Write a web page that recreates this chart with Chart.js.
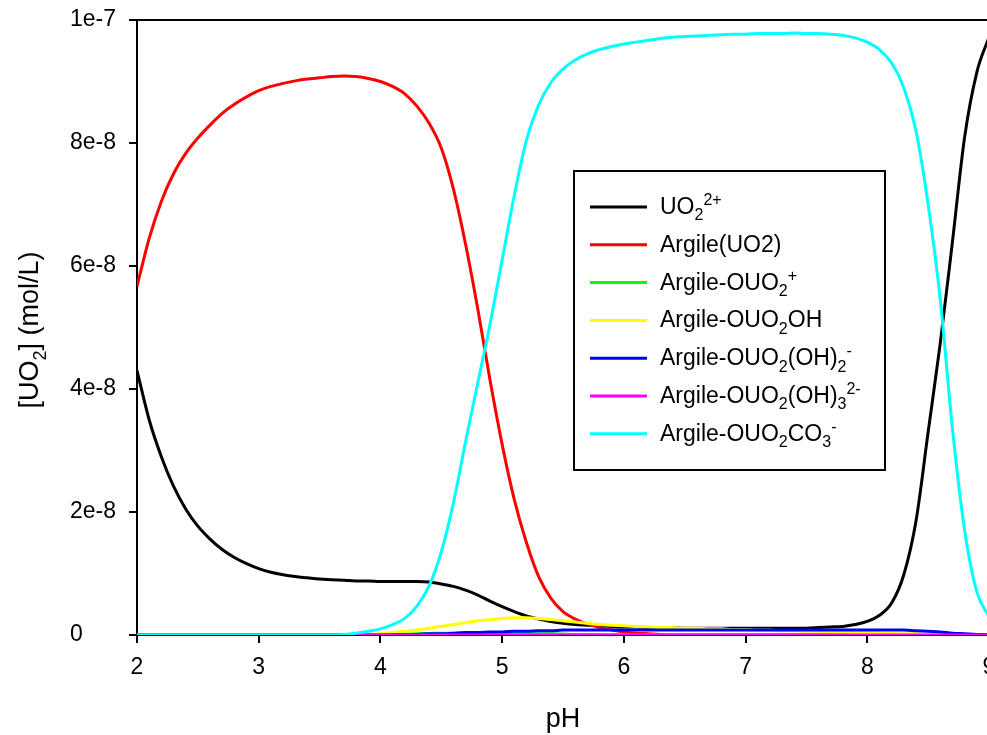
<!DOCTYPE html>
<html>
<head>
<meta charset="utf-8">
<title>Speciation UO2</title>
<script src="https://cdn.jsdelivr.net/npm/chart.js@4.4.1/dist/chart.umd.min.js"></script>
<style>
  html, body { margin: 0; padding: 0; background: #fff; overflow: hidden; }
  #box { width: 987px; height: 735px; overflow: hidden; position: relative; }
  #box canvas { position: absolute; left: 0; top: 0; }
</style>
</head>
<body>
<div id="box"><canvas id="speciation" width="1010" height="735"></canvas></div>
<script>
// pH
const phValues = [
  2.0, 2.1, 2.2, 2.3, 2.4, 2.5, 2.6, 2.7, 2.8, 2.9,
  3.0, 3.1, 3.2, 3.3, 3.4, 3.5, 3.6, 3.7, 3.8, 3.9,
  4.0, 4.1, 4.2, 4.3, 4.4, 4.5, 4.6, 4.7, 4.8, 4.9,
  5.0, 5.1, 5.2, 5.3, 5.4, 5.5, 5.6, 5.7, 5.8, 5.9,
  6.0, 6.1, 6.2, 6.3, 6.4, 6.5, 6.6, 6.7, 6.8, 6.9,
  7.0, 7.1, 7.2, 7.3, 7.4, 7.5, 7.6, 7.7, 7.8, 7.9,
  8.0, 8.1, 8.2, 8.3, 8.4, 8.5, 8.6, 8.7, 8.8, 8.9,
  9.0
];

// concentrations, en 1e-8 mol/L
const uo2 = [
  4.30, 3.50, 2.90, 2.42, 2.05, 1.77, 1.56, 1.39, 1.26, 1.16,
  1.08, 1.02, 0.98, 0.95, 0.93, 0.91, 0.90, 0.89, 0.88, 0.88,
  0.87, 0.87, 0.87, 0.87, 0.86, 0.83, 0.79, 0.73, 0.65, 0.55,
  0.46, 0.38, 0.31, 0.26, 0.22, 0.19, 0.17, 0.16, 0.15, 0.14,
  0.13, 0.13, 0.12, 0.12, 0.12, 0.11, 0.11, 0.11, 0.11, 0.11,
  0.11, 0.11, 0.11, 0.11, 0.11, 0.11, 0.12, 0.13, 0.14, 0.17,
  0.22, 0.32, 0.52, 0.98, 1.85, 3.30, 4.75, 6.40, 8.10, 9.15,
  9.72
];
const argileUO2 = [
  5.67, 6.45, 7.05, 7.50, 7.83, 8.08, 8.29, 8.48, 8.63, 8.75,
  8.85, 8.92, 8.97, 9.01, 9.04, 9.06, 9.08, 9.09, 9.08, 9.05,
  9.00, 8.92, 8.80, 8.60, 8.32, 7.92, 7.25, 6.35, 5.30, 4.15,
  3.10, 2.20, 1.50, 0.95, 0.60, 0.38, 0.26, 0.18, 0.12, 0.08,
  0.05, 0.03, 0.02, 0.01, 0, 0, 0, 0, 0, 0,
  0, 0, 0, 0, 0, 0, 0, 0, 0, 0,
  0, 0, 0, 0, 0, 0, 0, 0, 0, 0,
  0
];
const argileOUO2 = [
  0, 0, 0, 0, 0, 0, 0, 0, 0, 0,
  0, 0, 0, 0, 0, 0, 0, 0, 0, 0,
  0.005, 0.01, 0.015, 0.02, 0.025, 0.03, 0.03, 0.035, 0.035, 0.035,
  0.03, 0.03, 0.025, 0.02, 0.02, 0.015, 0.01, 0.01, 0.005, 0.005,
  0, 0, 0, 0, 0, 0, 0, 0, 0, 0,
  0, 0, 0, 0, 0, 0, 0, 0, 0, 0,
  0, 0, 0, 0, 0, 0, 0, 0, 0, 0,
  0
];
const argileOUO2OH = [
  0, 0, 0, 0, 0, 0, 0, 0, 0, 0,
  0, 0, 0, 0, 0, 0, 0, 0, 0.005, 0.01,
  0.02, 0.04, 0.06, 0.08, 0.11, 0.14, 0.17, 0.20, 0.23, 0.25,
  0.27, 0.28, 0.28, 0.27, 0.25, 0.23, 0.21, 0.19, 0.17, 0.16,
  0.15, 0.14, 0.13, 0.12, 0.12, 0.11, 0.11, 0.10, 0.10, 0.09,
  0.09, 0.08, 0.08, 0.07, 0.07, 0.06, 0.06, 0.05, 0.05, 0.04,
  0.04, 0.03, 0.03, 0.02, 0.02, 0.01, 0.01, 0.01, 0, 0,
  0
];
const argileOUO2OH2 = [
  0, 0, 0, 0, 0, 0, 0, 0, 0, 0,
  0, 0, 0, 0, 0, 0, 0, 0, 0, 0,
  0, 0.005, 0.01, 0.01, 0.02, 0.02, 0.03, 0.04, 0.04, 0.05,
  0.05, 0.06, 0.06, 0.07, 0.07, 0.08, 0.08, 0.08, 0.08, 0.08,
  0.08, 0.08, 0.08, 0.08, 0.08, 0.08, 0.08, 0.08, 0.08, 0.08,
  0.08, 0.08, 0.08, 0.08, 0.08, 0.08, 0.08, 0.08, 0.08, 0.08,
  0.08, 0.08, 0.08, 0.08, 0.07, 0.06, 0.05, 0.03, 0.02, 0.01,
  0.005
];
const argileOUO2OH3 = [
  0, 0, 0, 0, 0, 0, 0, 0, 0, 0,
  0, 0, 0, 0, 0, 0, 0, 0, 0, 0,
  0, 0, 0, 0, 0, 0, 0, 0, 0, 0,
  0, 0, 0, 0, 0, 0, 0, 0, 0, 0,
  0, 0, 0, 0, 0, 0, 0, 0, 0, 0,
  0, 0, 0, 0, 0, 0, 0, 0, 0, 0,
  0, 0, 0, 0, 0, 0, 0, 0, 0, 0,
  0
];
const argileOUO2CO3 = [
  0, 0, 0, 0, 0, 0, 0, 0, 0, 0,
  0, 0, 0, 0, 0, 0, 0, 0.01, 0.03, 0.06,
  0.10, 0.17, 0.27, 0.47, 0.80, 1.35, 2.15, 3.15, 4.10, 5.05,
  6.10, 7.15, 8.05, 8.62, 8.98, 9.20, 9.35, 9.45, 9.52, 9.57,
  9.61, 9.64, 9.67, 9.70, 9.72, 9.73, 9.74, 9.75, 9.76, 9.77,
  9.77, 9.78, 9.78, 9.78, 9.79, 9.78, 9.78, 9.77, 9.75, 9.71,
  9.64, 9.52, 9.30, 8.90, 8.20, 7.00, 5.45, 3.35, 1.70, 0.70,
  0.30
];

// axe Y
const yTickValues = [0, 2, 4, 6, 8, 10];
const yTickLabels = ["0", "2e-8", "4e-8", "6e-8", "8e-8", "1e-7"];

// légende : morceaux de texte (normal / indice / exposant)
const seriesNames = [
  "UO2 2+", "Argile(UO2)", "Argile-OUO2 +", "Argile-OUO2OH",
  "Argile-OUO2(OH)2 -", "Argile-OUO2(OH)3 2-", "Argile-OUO2CO3 -"
];
const legendTexts = [
  [["UO"], ["2", "sub"], ["2+", "sup"]],
  [["Argile(UO2)"]],
  [["Argile-OUO"], ["2", "sub"], ["+", "sup"]],
  [["Argile-OUO"], ["2", "sub"], ["OH"]],
  [["Argile-OUO"], ["2", "sub"], ["(OH)"], ["2", "sub"], ["-", "sup"]],
  [["Argile-OUO"], ["2", "sub"], ["(OH)"], ["3", "sub"], ["2-", "sup"]],
  [["Argile-OUO"], ["2", "sub"], ["CO"], ["3", "sub"], ["-", "sup"]]
];
const yTitle = [["[UO"], ["2", "sub"], ["] (mol/L)"]];
const xTitle = "pH";

const seriesValues = [uo2, argileUO2, argileOUO2, argileOUO2OH, argileOUO2OH2, argileOUO2OH3, argileOUO2CO3];
const colors = ["#000000", "#ff0000", "#00ff00", "#ffff00", "#0000ff", "#ff00ff", "#00ffff"];

const FONT = '"Liberation Sans", Arial, sans-serif';

// texte avec indices / exposants
function drawRich(ctx, parts, x, y, size) {
  let cx = x;
  parts.forEach(([t, kind]) => {
    const s = kind ? Math.round(size * 0.68) : size;
    let dy = 0;
    if (kind === "sub") dy = size * 0.28;
    if (kind === "sup") dy = -size * 0.38;
    ctx.font = s + "px " + FONT;
    ctx.fillText(t, cx, y + dy);
    cx += ctx.measureText(t).width;
  });
  return cx - x;
}
function richWidth(ctx, parts, size) {
  let w = 0;
  parts.forEach(([t, kind]) => {
    const s = kind ? Math.round(size * 0.68) : size;
    ctx.font = s + "px " + FONT;
    w += ctx.measureText(t).width;
  });
  return w;
}

// cadre du haut
const framePlugin = {
  id: "frame",
  afterDraw(chart) {
    const { ctx, chartArea } = chart;
    ctx.save();
    ctx.strokeStyle = "#000";
    ctx.lineWidth = 2;
    ctx.beginPath();
    ctx.moveTo(chartArea.left - 1, chartArea.top);
    ctx.lineTo(chartArea.right, chartArea.top);
    ctx.lineTo(chartArea.right, chartArea.bottom);
    ctx.stroke();
    ctx.restore();
  }
};

// titres des axes
const titlesPlugin = {
  id: "titles",
  afterDraw(chart) {
    const { ctx, chartArea } = chart;
    ctx.save();
    ctx.fillStyle = "#000";
    ctx.textBaseline = "alphabetic";
    ctx.textAlign = "left";
    // pH
    ctx.font = "27px " + FONT;
    const xw = ctx.measureText(xTitle).width;
    ctx.fillText(xTitle, (chartArea.left + chartArea.right) / 2 - xw / 2, 727);
    // [UO2] (mol/L)
    const yw = richWidth(ctx, yTitle, 27);
    ctx.translate(38, 330);
    ctx.rotate(-Math.PI / 2);
    drawRich(ctx, yTitle, -yw / 2, 0, 27);
    ctx.restore();
  }
};

// légende encadrée
const legendPlugin = {
  id: "richLegend",
  afterDraw(chart) {
    const ctx = chart.ctx;
    const box = { x: 574, y: 171, w: 311, h: 299 };
    ctx.save();
    ctx.fillStyle = "#fff";
    ctx.fillRect(box.x, box.y, box.w, box.h);
    ctx.strokeStyle = "#000";
    ctx.lineWidth = 2;
    ctx.strokeRect(box.x, box.y, box.w, box.h);
    ctx.textBaseline = "alphabetic";
    ctx.textAlign = "left";
    legendTexts.forEach((parts, i) => {
      const ry = 207 + i * 37.8;
      ctx.strokeStyle = colors[i];
      ctx.lineWidth = 3;
      ctx.beginPath();
      ctx.moveTo(590, ry);
      ctx.lineTo(647, ry);
      ctx.stroke();
      ctx.fillStyle = "#000";
      drawRich(ctx, parts, 660, ry + 7, 23);
    });
    ctx.restore();
  }
};

const ctx = document.getElementById("speciation").getContext("2d");

const datasets = seriesValues.map((vals, i) => ({
  label: seriesNames[i],
  data: vals.map((v, k) => ({ x: phValues[k], y: v })),
  borderColor: colors[i],
  backgroundColor: colors[i],
  borderWidth: 3,
  pointRadius: 0,
  fill: false,
  cubicInterpolationMode: "monotone",
  order: seriesValues.length - i
}));

const chart = new Chart(ctx, {
  type: "line",
  data: { datasets },
  options: {
    responsive: false,
    animation: false,
    devicePixelRatio: 1,
    events: [],
    // canvas plus large que la fenêtre : l'axe s'arrête à pH 9 au bord droit
    layout: { padding: { left: 70, top: 20, right: 21, bottom: 0 } },
    plugins: {
      legend: { display: false },
      tooltip: { enabled: false }
    },
    scales: {
      x: {
        type: "linear",
        min: 2,
        max: 9,
        ticks: {
          stepSize: 1,
          color: "#000",
          padding: 11,
          maxRotation: 0,
          font: { size: 23, family: FONT }
        },
        grid: { drawOnChartArea: false, drawTicks: true, tickLength: 8, color: "#000", lineWidth: 2 },
        border: { display: true, color: "#000", width: 2 },
        afterFit: (s) => { s.height = 100; }
      },
      y: {
        type: "linear",
        min: 0,
        max: 10,
        ticks: {
          stepSize: 2,
          color: "#000",
          crossAlign: "far",
          font: { size: 23, family: FONT },
          callback: (v) => yTickLabels[yTickValues.indexOf(v)]
        },
        grid: { drawOnChartArea: false, drawTicks: true, tickLength: 8, color: "#000", lineWidth: 2 },
        border: { display: true, color: "#000", width: 2 },
        afterFit: (s) => { s.width = 67; }
      }
    }
  },
  plugins: [framePlugin, titlesPlugin, legendPlugin]
});
</script>
</body>
</html>
